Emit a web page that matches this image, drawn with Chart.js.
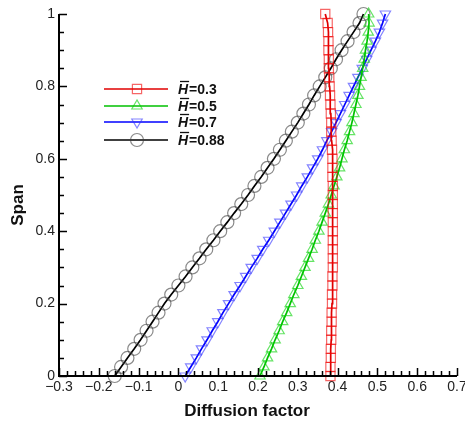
<!DOCTYPE html>
<html>
<head>
<meta charset="utf-8">
<script src="https://cdn.jsdelivr.net/npm/chart.js@4/dist/chart.umd.min.js"></script>
<style>
  html, body { margin: 0; padding: 0; background: #fff; }
  #wrap { width: 465px; height: 423px; position: relative; }
</style>
</head>
<body>
<div id="wrap"><canvas id="c"></canvas></div>
<script>
'use strict';
// span stations (y axis)
const spans = [0, 0.025, 0.05, 0.075, 0.1, 0.125, 0.15, 0.175, 0.2, 0.225, 0.25, 0.275, 0.3, 0.325, 0.35, 0.375,
  0.4, 0.425, 0.45, 0.475, 0.5, 0.525, 0.55, 0.575, 0.6, 0.625, 0.65, 0.675, 0.7, 0.725, 0.75, 0.775,
  0.8, 0.825, 0.85, 0.875, 0.9, 0.925, 0.95, 0.975, 1];

// diffusion factor for each H-bar
const dfH03 = [0.382, 0.382, 0.383, 0.383, 0.384, 0.384, 0.385, 0.385, 0.386, 0.386, 0.387, 0.387, 0.388, 0.388, 0.388, 0.388,
  0.388, 0.388, 0.388, 0.388, 0.388, 0.388, 0.387, 0.387, 0.387, 0.386, 0.385, 0.384, 0.384, 0.383, 0.382, 0.381,
  0.380, 0.379, 0.378, 0.378, 0.377, 0.377, 0.376, 0.375, 0.369];
const dfH05 = [0.205, 0.215, 0.224, 0.234, 0.243, 0.253, 0.262, 0.272, 0.281, 0.290, 0.300, 0.309, 0.318, 0.327, 0.336, 0.344,
  0.353, 0.361, 0.369, 0.377, 0.384, 0.391, 0.398, 0.405, 0.411, 0.417, 0.424, 0.430, 0.436, 0.441, 0.446, 0.451,
  0.455, 0.459, 0.463, 0.467, 0.470, 0.474, 0.477, 0.479, 0.478];
const dfH07 = [0.017, 0.031, 0.045, 0.058, 0.072, 0.085, 0.099, 0.112, 0.126, 0.140, 0.155, 0.169, 0.183, 0.198, 0.212, 0.227,
  0.241, 0.255, 0.269, 0.283, 0.297, 0.310, 0.324, 0.337, 0.350, 0.362, 0.373, 0.385, 0.396, 0.407, 0.418, 0.429,
  0.440, 0.451, 0.462, 0.473, 0.484, 0.495, 0.505, 0.513, 0.520];
const dfH088 = [-0.160, -0.144, -0.128, -0.111, -0.095, -0.080, -0.065, -0.050, -0.035, -0.018, 0.000, 0.018, 0.035, 0.053, 0.070, 0.088,
  0.105, 0.123, 0.140, 0.158, 0.175, 0.191, 0.208, 0.224, 0.240, 0.255, 0.270, 0.285, 0.300, 0.314, 0.328, 0.341,
  0.355, 0.369, 0.383, 0.396, 0.410, 0.425, 0.440, 0.455, 0.465];

const seriesLabels = ['0.3', '0.5', '0.7', '0.88'];
const xTicks = [-0.3, -0.2, -0.1, 0, 0.1, 0.2, 0.3, 0.4, 0.5, 0.6, 0.7];
const yTicks = [0, 0.2, 0.4, 0.6, 0.8, 1];

const FONT = '"Liberation Sans", Arial, Helvetica, sans-serif';

const styles = [
  { line: '#e00000', mark: 'rgba(240,0,0,0.6)', shape: 'rect', r: 6.5, rot: 0 },
  { line: '#00c000', mark: 'rgba(0,210,0,0.6)', shape: 'triangle', r: 6, rot: 0 },
  { line: '#0000ff', mark: 'rgba(50,50,255,0.6)', shape: 'triangle', r: 6, rot: 180 },
  { line: '#000000', mark: 'rgba(60,60,60,0.6)', shape: 'circle', r: 6.5, rot: 0 }
];
const allSeries = [dfH03, dfH05, dfH07, dfH088];

const datasets = allSeries.map((vals, i) => ({
  label: seriesLabels[i],
  data: vals.map((v, k) => ({ x: v, y: spans[k] })),
  borderColor: styles[i].line,
  borderWidth: 1.7,
  pointStyle: styles[i].shape,
  pointRotation: styles[i].rot,
  pointRadius: styles[i].r,
  pointBorderColor: styles[i].mark,
  pointBackgroundColor: 'rgba(0,0,0,0)',
  pointBorderWidth: 1.2,
  tension: 0,
  clip: false
}));

function fmt(v) {
  const s = String(Math.round(v * 10) / 10);
  return s.replace('-', '\u2212');
}

// axes, inward ticks, titles and legend
const decor = {
  id: 'decor',
  afterDraw(chart) {
    const ctx = chart.ctx;
    const xs = chart.scales.x, ys = chart.scales.y;
    const a = chart.chartArea;
    ctx.save();
    ctx.strokeStyle = '#000';
    ctx.lineWidth = 1.5;
    ctx.beginPath();
    for (let i = -30; i <= 70; i += 2) {
      const px = Math.round(xs.getPixelForValue(i / 100)) + 0.5;
      const len = (i % 10 === 0) ? 8 : 5;
      ctx.moveTo(px, a.bottom); ctx.lineTo(px, a.bottom - len);
    }
    for (let i = 0; i <= 100; i += 5) {
      const py = Math.round(ys.getPixelForValue(i / 100)) + 0.5;
      const len = (i % 20 === 0) ? 8 : 5;
      ctx.moveTo(a.left, py); ctx.lineTo(a.left + len, py);
    }
    ctx.stroke();
    ctx.lineWidth = 2;
    ctx.beginPath();
    ctx.moveTo(a.left, a.top); ctx.lineTo(a.left, a.bottom); ctx.lineTo(a.right, a.bottom);
    ctx.stroke();

    // titles
    ctx.fillStyle = '#111';
    ctx.font = 'bold 17px ' + FONT;
    ctx.textAlign = 'center';
    ctx.textBaseline = 'middle';
    ctx.fillText('Diffusion factor', 247, 411);
    ctx.save();
    ctx.translate(18, 205);
    ctx.rotate(-Math.PI / 2);
    ctx.fillText('Span', 0, 0);
    ctx.restore();

    // legend
    const rows = [89, 106, 122, 140];
    rows.forEach((ly, i) => {
      const st = styles[i];
      ctx.strokeStyle = st.line;
      ctx.lineWidth = 1.7;
      ctx.beginPath(); ctx.moveTo(104, ly); ctx.lineTo(168, ly); ctx.stroke();
      ctx.strokeStyle = st.mark;
      ctx.lineWidth = 1.2;
      ctx.beginPath();
      const cx = 137, r = st.r;
      if (st.shape === 'rect') {
        const h = r * Math.SQRT1_2;
        ctx.rect(cx - h, ly - h, 2 * h, 2 * h);
      } else if (st.shape === 'circle') {
        ctx.arc(cx, ly, r, 0, Math.PI * 2);
      } else {
        const d = st.rot ? -1 : 1;
        ctx.moveTo(cx, ly - d * r);
        ctx.lineTo(cx - r * 0.87, ly + d * r * 0.5);
        ctx.lineTo(cx + r * 0.87, ly + d * r * 0.5);
        ctx.closePath();
      }
      ctx.stroke();

      ctx.fillStyle = '#111';
      ctx.textAlign = 'left';
      ctx.textBaseline = 'middle';
      ctx.font = 'italic bold 14px ' + FONT;
      const hx = 178;
      ctx.fillText('H', hx, ly + 1);
      const hw = ctx.measureText('H').width;
      ctx.strokeStyle = '#111';
      ctx.lineWidth = 1.3;
      ctx.beginPath(); ctx.moveTo(hx + 2, ly - 7.5); ctx.lineTo(hx + hw + 1, ly - 7.5); ctx.stroke();
      ctx.font = 'bold 14px ' + FONT;
      ctx.fillText('=' + seriesLabels[i], hx + hw + 1, ly + 1);
    });
    ctx.restore();
  }
};

new Chart(document.getElementById('c'), {
  type: 'line',
  data: { datasets },
  options: {
    responsive: true,
    maintainAspectRatio: false,
    animation: false,
    layout: { padding: { left: 0, right: 8, top: 14, bottom: 0 } },
    plugins: { legend: { display: false }, tooltip: { enabled: false } },
    scales: {
      x: {
        type: 'linear', min: -0.3, max: 0.7,
        grid: { display: false, drawTicks: false },
        border: { display: false },
        afterBuildTicks: s => { s.ticks = xTicks.map(v => ({ value: v })); },
        afterFit: s => { s.height = 47; s.paddingLeft = 0; s.paddingRight = 0; },
        ticks: { padding: 3, color: '#222', font: { family: FONT, size: 14 }, maxRotation: 0, autoSkip: false, callback: v => fmt(v) }
      },
      y: {
        type: 'linear', min: 0, max: 1,
        grid: { display: false, drawTicks: false },
        border: { display: false },
        afterBuildTicks: s => { s.ticks = yTicks.map(v => ({ value: v })); },
        afterFit: s => { s.width = 59; s.paddingTop = 0; s.paddingBottom = 0; },
        ticks: { padding: 4, color: '#222', font: { family: FONT, size: 14 }, autoSkip: false, callback: v => fmt(v) }
      }
    }
  },
  plugins: [decor]
});
</script>
</body>
</html>
